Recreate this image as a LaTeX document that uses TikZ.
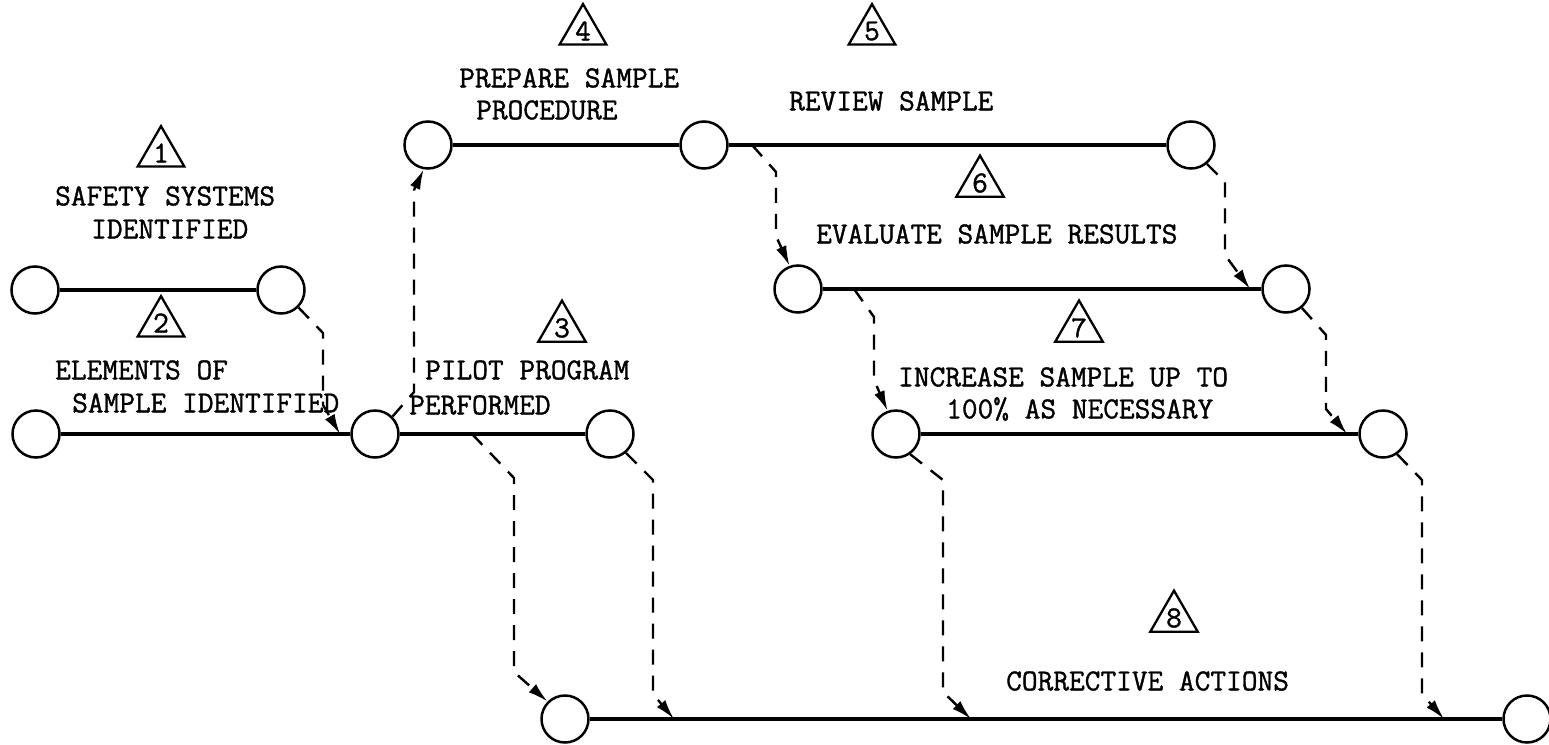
\documentclass[tikz,border=0pt]{standalone}
\usepackage{fontspec}
\newfontfamily\lblfam{Latin Modern Mono}[FakeBold=1.2]
\usetikzlibrary{arrows.meta,shapes.geometric}
\newcommand\lblfont{\lblfam\fontsize{30.5}{33}\selectfont}
\begin{document}
\begin{tikzpicture}[x=1pt,y=-1pt,
  ev/.style={circle,draw,line width=2.5pt,minimum size=47pt,inner sep=0pt},
  act/.style={line width=4.2pt},
  dep/.style={line width=2.4pt,dash pattern=on 15pt off 11pt,-{Latex[length=20pt,width=11pt]}},
  tri/.style={regular polygon,regular polygon sides=3,draw,line width=2.3pt,minimum size=48.5pt,inner sep=0pt,font=\lblfont},
  lbl/.style={anchor=west,inner sep=0pt,font=\lblfont}]
\useasboundingbox (0,0) rectangle (1549,744);

% events
\node[ev] (c1a) at (35,290) {};
\node[ev] (c1b) at (281,290) {};
\node[ev] (c2a) at (36,434) {};
\node[ev] (c2b) at (375,434) {};
\node[ev] (c3b) at (610,434) {};
\node[ev] (c4a) at (428,145) {};
\node[ev] (c4b) at (704,145) {};
\node[ev] (c5b) at (1191,145) {};
\node[ev] (c6a) at (798,289) {};
\node[ev] (c6b) at (1286,289) {};
\node[ev] (c7a) at (896,434) {};
\node[ev] (c7b) at (1383,434) {};
\node[ev] (c8a) at (565,719) {};
\node[ev] (c8b) at (1527,719) {};

% activities
\draw[act] (c1a) -- (c1b);
\draw[act] (c2a) -- (c2b);
\draw[act] (c2b) -- (c3b);
\draw[act] (c4a) -- (c4b);
\draw[act] (c4b) -- (c5b);
\draw[act] (c6a) -- (c6b);
\draw[act] (c7a) -- (c7b);
\draw[act] (c8a) -- (c8b);

% free ends on activity lines
\coordinate (t1) at (340,434);
\coordinate (s3) at (472,434);
\coordinate (t4) at (674,719);
\coordinate (s5) at (752,145);
\coordinate (t6) at (1250,289);
\coordinate (s7) at (854,289);
\coordinate (t8) at (1347,434);
\coordinate (t9) at (971,719);
\coordinate (t10) at (1444,719);

% dependencies
\draw[dep] (c1b.-45) -- (323,333) -- (323,405) -- (t1);
\draw[dep] (c2b.45) -- (414,392) -- (414,190) -- (c4a.-100);
\draw[dep] (s3) -- (514,478) -- (514,672) -- (c8a.135);
\draw[dep] (c3b.-50) -- (653,480) -- (653,694) -- (t4);
\draw[dep] (s5) -- (776,172) -- (776,236) -- (c6a.110);
\draw[dep] (c5b.-50) -- (1225,182) -- (1225,255) -- (t6);
\draw[dep] (s7) -- (874,317) -- (874,380) -- (c7a.110);
\draw[dep] (c6b.-50) -- (1326,335) -- (1326,409) -- (t8);
\draw[dep] (c7a.-55) -- (943,480) -- (943,692) -- (t9);
\draw[dep] (c7b.-55) -- (1422,480) -- (1422,694) -- (t10);

% triangles
\node[tri] (n1) at (161,153) {1};
\node[tri] (n2) at (161,323) {2};
\node[tri] (n3) at (562,328) {3};
\node[tri] (n4) at (583,31) {4};
\node[tri] (n5) at (872,31) {5};
\node[tri] (n6) at (980,183) {6};
\node[tri] (n7) at (1079,328) {7};
\node[tri] (n8) at (1174,618) {8};

% labels
\node[lbl] (l1a) at (55,196) {SAFETY SYSTEMS};
\node[lbl] (l1b) at (91,229) {IDENTIFIED};
\node[lbl] (l2a) at (55,370) {ELEMENTS OF};
\node[lbl] (l2b) at (72,403) {SAMPLE IDENTIFIED};
\node[lbl] (l3a) at (425,370) {PILOT PROGRAM};
\node[lbl] (l3b) at (409,405) {PERFORMED};
\node[lbl] (l4a) at (459,78) {PREPARE SAMPLE};
\node[lbl] (l4b) at (476,110) {PROCEDURE};
\node[lbl] (l5) at (789,101) {REVIEW SAMPLE};
\node[lbl] (l6) at (816,234) {EVALUATE SAMPLE RESULTS};
\node[lbl] (l7a) at (898,377) {INCREASE SAMPLE UP TO};
\node[lbl] (l7b) at (946,409) {100\% AS NECESSARY};
\node[lbl] (l8) at (1006,681) {CORRECTIVE ACTIONS};
\end{tikzpicture}
\end{document}
